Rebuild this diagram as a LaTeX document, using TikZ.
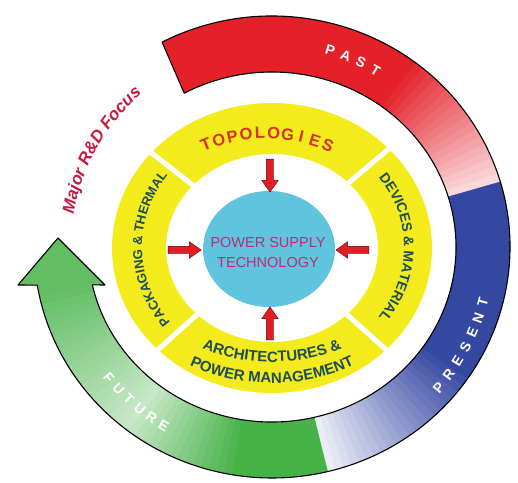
\documentclass[tikz,border=0pt]{standalone}
\usepackage{fontspec}
\setmainfont{Liberation Sans}
\usetikzlibrary{shapes.geometric, shapes.arrows, decorations.text}

\definecolor{pastred}{RGB}{228,32,40}
\definecolor{presblue}{RGB}{52,72,162}
\definecolor{futgreen}{RGB}{70,178,72}
\definecolor{ringyellow}{RGB}{244,235,28}
\definecolor{coreblue}{RGB}{96,196,222}
\definecolor{ringteal}{RGB}{28,78,82}
\definecolor{topored}{RGB}{212,52,28}
\definecolor{focusred}{RGB}{200,24,62}
\definecolor{coretext}{RGB}{188,44,116}
\definecolor{arrowred}{RGB}{226,30,36}

\newcommand{\focusfont}{\bfseries\itshape\fontsize{17}{17}\selectfont\color{focusred}}
\newcommand{\devfont}{\bfseries\fontsize{14}{14}\selectfont\color{ringteal}}
\newcommand{\packfont}{\bfseries\fontsize{13}{13}\selectfont\color{ringteal}}
\newcommand{\archfont}{\bfseries\fontsize{15}{15}\selectfont\color{ringteal}}

\tikzstyle{bandtext} = [text=white, font=\bfseries\fontsize{14}{14}\selectfont, inner sep=0pt]
\tikzstyle{topotext} = [text=topored, font=\bfseries\fontsize{16.5}{16.5}\selectfont, inner sep=0pt]
\tikzstyle{inarrow} = [single arrow, draw=red!40!black, fill=arrowred, inner sep=3.5pt,
  minimum height=33pt, single arrow head extend=4.5pt, single arrow tip angle=70]

\begin{document}
\begin{tikzpicture}[x=1pt, y=1pt]
	\useasboundingbox (-272,-235) rectangle (246,247);

	% outer band: past, present, future
	\begin{scope}
		\clip (117.5:238 and 231)
			arc[start angle=117.5, end angle=-170.5, x radius=238, y radius=231]
			-- (-254,-38) -- (-214,9) -- (-167,-38) -- (-167.5:184 and 175)
			arc[start angle=-167.5, end angle=118.5, x radius=184, y radius=175] -- cycle;
		\foreach \a in {-186,-184,...,-78} {
			\pgfmathsetmacro\p{\a<-170 ? 85 : (\a<-130 ? 85-55*(\a+170)/40 : min(100,30+70*(\a+130)/30))}
			\fill[futgreen!\p!white] (0,0) -- (\a:260) arc[start angle=\a, end angle=\a+2.5, radius=260] -- cycle;
		}
		\foreach \a in {-76,-74,...,16} {
			\pgfmathsetmacro\p{min(100,10+90*(\a+76)/42)}
			\fill[presblue!\p!white] (0,0) -- (\a:260) arc[start angle=\a, end angle=\a+2.5, radius=260] -- cycle;
		}
		\foreach \a in {16,18,...,120} {
			\pgfmathsetmacro\p{min(100,18+82*(\a-16)/36)}
			\fill[pastred!\p!white] (0,0) -- (\a:260) arc[start angle=\a, end angle=\a+2.5, radius=260] -- cycle;
		}
	\end{scope}
	\draw[black, line width=1.1pt, line join=round] (117.5:238 and 231)
		arc[start angle=117.5, end angle=-170.5, x radius=238, y radius=231]
		-- (-254,-38) -- (-214,9) -- (-167,-38) -- (-167.5:184 and 175)
		arc[start angle=-167.5, end angle=118.5, x radius=184, y radius=175] -- cycle;

	\foreach \ch [count=\i] in {P,A,S,T}
		\node[bandtext, rotate={73.5-4.6*(\i-1)-90}] (past\i) at ({73.5-4.6*(\i-1)}:205) {\ch};
	\foreach \ch [count=\i] in {P,R,E,S,E,N,T}
		\node[bandtext, rotate={-40.1+4.23*(\i-1)+90}] (pres\i) at ({-40.1+4.23*(\i-1)}:218) {\ch};
	\foreach \ch [count=\i] in {F,U,T,U,R,E}
		\node[bandtext, rotate={218.7+4.02*(\i-1)+90}] (fut\i) at ({218.7+4.02*(\i-1)}:209) {\ch};

	\path[decorate, decoration={text along path, text align=center,
		text={|\focusfont|Major R{\&}D Focus}}]
		(176:201) arc[start angle=176, end angle=125, radius=201];

	% yellow ring of research areas
	\fill[ringyellow, even odd rule] (0,-1) ellipse[x radius=160, y radius=145]
		(0,-1) ellipse[x radius=106, y radius=94];
	\foreach \g in {142,40,-42,222}
		\draw[white, line width=5pt] (\g:95) -- (\g:168);

	\begin{scope}[shift={(-6,-46)}]
		\foreach \ch [count=\i] in {T,O,P,O,L,O,G,I,E,S}
			\node[topotext, rotate={112.1-4.98*(\i-1)-90}] (topo\i) at ({112.1-4.98*(\i-1)}:160) {\ch};
	\end{scope}
	\path[decorate, decoration={text along path, text align=center,
		text={|\devfont|DEVICES {\&} MATERIAL}}]
		(45:132 and 118) arc[start angle=45, end angle=-45, x radius=132, y radius=118];
	\path[decorate, decoration={text along path, text align=center,
		text={|\packfont|PACKAGING {\&} THERMAL}}]
		(226:130 and 120) arc[start angle=226, end angle=136, x radius=130, y radius=120];
	\path[decorate, decoration={text along path, text align=center,
		text={|\archfont|ARCHITECTURES {\&}}}]
		(-135:148 and 115) arc[start angle=-135, end angle=-45, x radius=148, y radius=115];
	\path[decorate, decoration={text along path, text align=center,
		text={|\archfont|POWER MANAGEMENT}}]
		(-135:166 and 136) arc[start angle=-135, end angle=-45, x radius=166, y radius=136];

	% core
	\node[ellipse, fill=coreblue, minimum width=132pt, minimum height=116pt] (core) at (-3,-2) {};
	\node[text=coretext, font=\fontsize{14.5}{20}\selectfont, align=center] (coretitle) at (-4,-6)
		{POWER SUPPLY\\TECHNOLOGY};

	\node[inarrow, rotate=-90] (arrtop)   at (-2,74)  {};
	\node[inarrow]             (arrleft)  at (-90,-3) {};
	\node[inarrow, rotate=180] (arrright) at (83,-3)  {};
	\node[inarrow, rotate=90]  (arrbot)   at (-2,-79) {};
\end{tikzpicture}
\end{document}
